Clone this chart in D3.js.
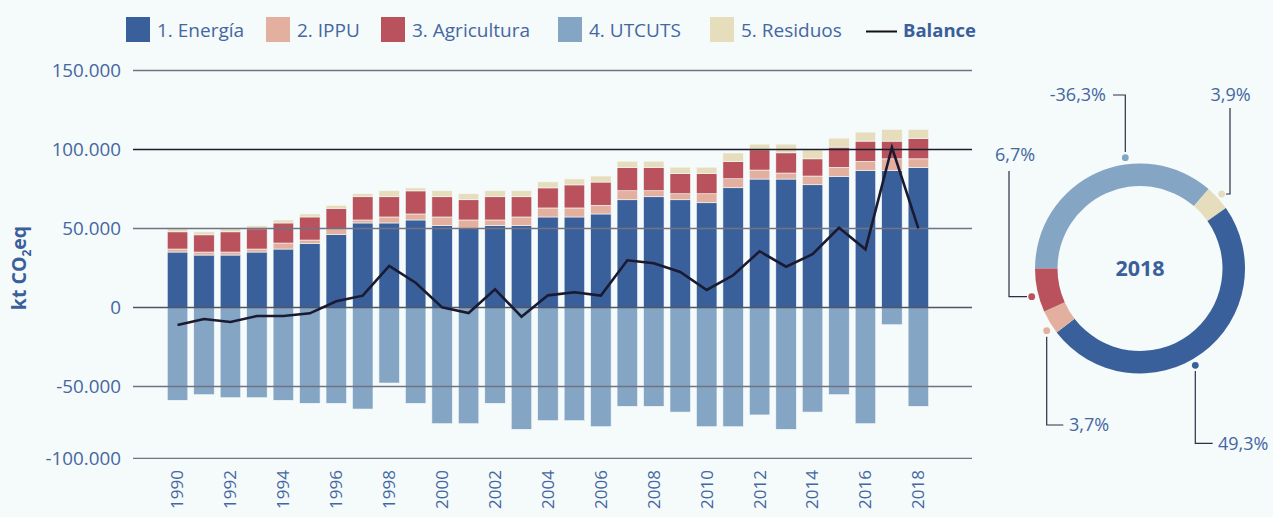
<!DOCTYPE html>
<html>
<head>
<meta charset="utf-8">
<script src="https://cdn.jsdelivr.net/npm/d3@7"></script>
<style>
  html, body { margin: 0; padding: 0; background: #f5fafa; }
  svg { display: block; font-family: "Open Sans", sans-serif; }
</style>
</head>
<body>
<div id="container"></div>
<script>
// data (kt CO2eq)
const years = d3.range(1990, 2019);
const energia = [35100, 33200, 33200, 35100, 37000, 40600, 46100, 53500, 53500, 55400,
  51800, 49900, 51800, 51800, 57300, 57300, 59200, 68200, 70100, 68200,
  66300, 75800, 81300, 81300, 77700, 83000, 86800, 86800, 88700];
const ippu = [1900, 1900, 1900, 1900, 3800, 2100, 3800, 1900, 3800, 3800,
  5500, 5500, 3600, 5500, 5700, 5700, 5500, 5700, 3800, 3800,
  5700, 5700, 5700, 3800, 5500, 5700, 5700, 7300, 5400];
const agricultura = [10900, 10900, 12800, 12800, 12700, 14600, 12900, 14700, 12800, 14600,
  12800, 12800, 14700, 12800, 12700, 14600, 14700, 14600, 14600, 12700,
  12700, 10800, 12800, 12800, 10900, 12800, 12800, 11200, 12900];
const residuos = [2200, 1900, 1900, 1900, 1900, 1900, 1900, 1900, 3800, 1900,
  3800, 3800, 3800, 3800, 3800, 3800, 3800, 4100, 4100, 4100,
  4100, 5500, 3600, 5500, 5700, 5700, 5700, 7400, 5700];
const utcuts = [-59600, -55700, -57800, -57800, -59600, -61700, -61700, -65700, -47800, -61700,
  -75900, -75900, -61700, -79800, -73800, -73800, -78000, -63800, -63800, -67800,
  -78000, -78000, -69800, -79800, -67800, -55700, -75900, -10900, -63800];
const balance = [-11100, -7300, -9200, -5400, -5400, -3700, 3900, 7500, 26300, 15700,
  100, -3500, 11500, -5800, 7700, 9600, 7500, 29900, 28000, 22500,
  11100, 20400, 35600, 25800, 33700, 50500, 36800, 101400, 50100];

const yTicks = [150000, 100000, 50000, 0, -50000, -100000];
const yearLabels = d3.range(1990, 2019, 2);

// donut for 2018, drawn clockwise from 9 o'clock
const donutKeys = ["4. UTCUTS", "5. Residuos", "1. Energía", "2. IPPU", "3. Agricultura"];
const donutShares = [36.3, 3.9, 49.3, 3.7, 6.7];
const donutLabels = ["-36,3%", "3,9%", "49,3%", "3,7%", "6,7%"];

const keys = ["1. Energía", "2. IPPU", "3. Agricultura", "4. UTCUTS", "5. Residuos"];
const colors = {
  "1. Energía": "#3a609b",
  "2. IPPU": "#e3b09f",
  "3. Agricultura": "#b9525c",
  "4. UTCUTS": "#85a5c4",
  "5. Residuos": "#e6ddbd"
};
const textColor = "#4467a2";
const W = 1273, H = 517;

let svg = d3.select("#container").append("svg").attr("width", W).attr("height", H);

let x = d3.scaleBand().domain(years).range([164.3, 931.6]).paddingInner(0.225).paddingOuter(0.1125);
let y = d3.scaleLinear().domain([-100000, -50000, 150000]).range([458.3, 386.5, 70.5]);

// stacked positive parts
let rows = years.map((yr, i) => ({
  year: yr, "1. Energía": energia[i], "2. IPPU": ippu[i],
  "3. Agricultura": agricultura[i], "5. Residuos": residuos[i]
}));
let stack = d3.stack().keys(["1. Energía", "2. IPPU", "3. Agricultura", "5. Residuos"])(rows);

let bars = svg.append("g");
stack.forEach(layer => {
  bars.selectAll(null)
    .data(layer)
    .join("rect")
    .attr("x", d => x(d.data.year))
    .attr("width", x.bandwidth())
    .attr("y", d => y(d[1]))
    .attr("height", d => y(d[0]) - y(d[1]))
    .attr("fill", colors[layer.key])
    .attr("stroke", "#f5fafa")
    .attr("stroke-width", 0.6);
});

bars.selectAll(".neg")
  .data(utcuts)
  .join("rect")
  .attr("class", "neg")
  .attr("x", (d, i) => x(years[i]))
  .attr("width", x.bandwidth())
  .attr("y", y(0))
  .attr("height", d => y(d) - y(0))
  .attr("fill", colors["4. UTCUTS"])
  .attr("stroke", "#f5fafa")
  .attr("stroke-width", 0.6);

// grid on top of bars
svg.append("g")
  .selectAll("line")
  .data(yTicks)
  .join("line")
  .attr("x1", 133).attr("x2", 972)
  .attr("y1", d => y(d)).attr("y2", d => y(d))
  .attr("stroke", d => d === 100000 ? "#1d1d2e" : d === 0 ? "#4f5468" : "#6f7383")
  .attr("stroke-width", 1.3);

svg.append("g")
  .selectAll("text")
  .data(yTicks)
  .join("text")
  .attr("x", 121)
  .attr("y", d => y(d))
  .attr("dy", "0.35em")
  .attr("text-anchor", "end")
  .attr("fill", textColor)
  .style("font-size", "18.8px")
  .text(d => d3.format(",")(d).replace(/,/g, ".").replace("−", "-"));

// year labels
svg.append("g")
  .selectAll("text")
  .data(yearLabels)
  .join("text")
  .attr("transform", d => `translate(${x(d) + x.bandwidth() / 2},470) rotate(-90)`)
  .attr("dy", "0.35em")
  .attr("text-anchor", "end")
  .attr("fill", textColor)
  .style("font-size", "17px")
  .text(d => d);

// balance line
let line = d3.line()
  .x((d, i) => x(years[i]) + x.bandwidth() / 2)
  .y(d => y(d));
svg.append("path")
  .datum(balance)
  .attr("d", line)
  .attr("fill", "none")
  .attr("stroke", "#1a1a30")
  .attr("stroke-width", 2.6)
  .attr("stroke-linejoin", "miter");

// y axis title
let yt = svg.append("text")
  .attr("transform", "translate(25.5,268) rotate(-90)")
  .attr("text-anchor", "middle")
  .attr("fill", "#3a5f9b")
  .style("font-size", "19.5px")
  .style("font-weight", "bold");
yt.append("tspan").text("kt CO");
yt.append("tspan").attr("dy", 5).style("font-size", "12px").text("2");
yt.append("tspan").attr("dy", -5).text("eq");

// legend (square positions taken from the layout of the original)
const legendX = [126, 266, 381, 558, 710];
let lg = svg.append("g");
keys.forEach((k, i) => {
  lg.append("rect").attr("x", legendX[i]).attr("y", 17).attr("width", 24).attr("height", 25).attr("fill", colors[k]);
  lg.append("text").attr("x", legendX[i] + 31).attr("y", 30).attr("dy", "0.35em")
    .attr("fill", textColor).style("font-size", "19px").text(k);
});
lg.append("line").attr("x1", 866).attr("x2", 897).attr("y1", 31.5).attr("y2", 31.5)
  .attr("stroke", "#111").attr("stroke-width", 2);
lg.append("text").attr("x", 903).attr("y", 31).attr("dy", "0.35em")
  .attr("fill", "#3a5f9b").style("font-size", "18.5px").style("font-weight", "bold").text("Balance");

// donut
let cx = 1140, cy = 268.5;
let pie = d3.pie().sort(null).startAngle(-Math.PI / 2).endAngle(1.5 * Math.PI)(donutShares);
let arc = d3.arc().innerRadius(82.5).outerRadius(105);
let dg = svg.append("g").attr("transform", `translate(${cx},${cy})`);
dg.selectAll("path")
  .data(pie)
  .join("path")
  .attr("d", arc)
  .attr("fill", (d, i) => colors[donutKeys[i]]);

dg.append("text")
  .attr("text-anchor", "middle")
  .attr("dy", "0.35em")
  .attr("fill", "#3a5f9b")
  .style("font-size", "21.5px")
  .style("font-weight", "bold")
  .text("2018");

// callouts: dot offset from center, leader elbow, label position
let callouts = [
  { dot: [-14.7, -110.8], path: [[1125.3, 152], [1125.3, 95], [1113, 95]], tx: 1106, ty: 95, anchor: "end" },
  { dot: [81.7, -74.5], path: [[1226, 194], [1230, 194], [1230, 108]], tx: 1210.5, ty: 95, anchor: "start" },
  { dot: [55.3, 96.8], path: [[1195.3, 371], [1195.3, 443.3], [1212.7, 443.3]], tx: 1218, ty: 443.3, anchor: "start" },
  { dot: [-93.3, 62.2], path: [[1046.7, 336.7], [1046.7, 425], [1063.3, 425]], tx: 1069, ty: 425, anchor: "start" },
  { dot: [-108.3, 28.2], path: [[1027, 296.7], [1009, 296.7], [1009, 171]], tx: 995, ty: 155, anchor: "start" }
];
callouts.forEach((c, i) => {
  svg.append("path")
    .attr("d", d3.line()(c.path))
    .attr("fill", "none")
    .attr("stroke", "#2b2f45")
    .attr("stroke-width", 1.2);
  svg.append("circle")
    .attr("cx", cx + c.dot[0]).attr("cy", cy + c.dot[1]).attr("r", 3.4)
    .attr("fill", colors[donutKeys[i]]);
  svg.append("text")
    .attr("x", c.tx).attr("y", c.ty).attr("dy", "0.35em")
    .attr("text-anchor", c.anchor)
    .attr("fill", textColor)
    .style("font-size", "18px")
    .text(donutLabels[i]);
});
</script>
</body>
</html>
